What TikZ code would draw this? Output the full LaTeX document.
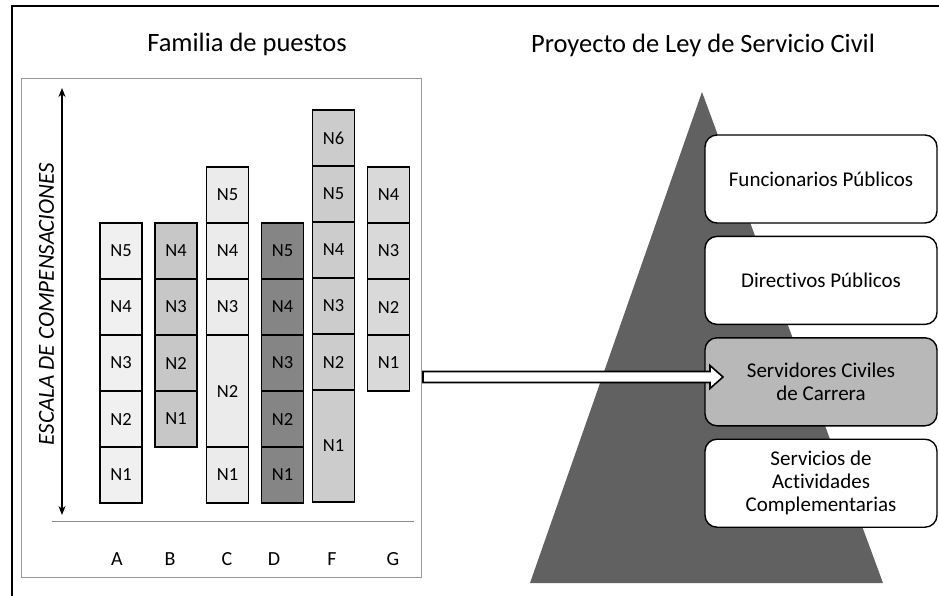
\documentclass[tikz,border=0pt]{standalone}
\usepackage{fontspec}
\setmainfont{Carlito}[Ligatures=NoCommon]
\usetikzlibrary{arrows.meta, positioning, calc}

\begin{document}
\begin{tikzpicture}[x=1pt, y=-1pt, node distance=56pt,
	cell/.style={draw, line width=1.1pt, minimum width=42pt, minimum height=56pt, inner sep=0pt, font=\fontsize{18.5}{21}\selectfont},
	grupo/.style={draw, line width=1.4pt, rounded corners=12pt, minimum width=232pt, minimum height=88pt, inner sep=2pt, align=center, fill=white, font=\fontsize{21}{23}\selectfont},
	titulo/.style={anchor=base, font=\fontsize{26.5}{30}\selectfont},
	letra/.style={anchor=base, font=\fontsize{20}{22}\selectfont}]
	\useasboundingbox (0,0) rectangle (939,595);
	\draw[line width=1.2pt] (12,6) rectangle (960,620);

	% familia de puestos
	\node[titulo] (famtit) at (247,51) {Familia de puestos};
	\node[draw=black!40, line width=0.7pt, minimum width=400pt, minimum height=499pt, inner sep=0pt] (panel) at (221,327.5) {};

	\node[cell, fill=black!6] (A5) at (121,251) {N5};
	\node[cell, fill=black!6] (A4) [below of=A5] {N4};
	\node[cell, fill=black!6] (A3) [below of=A4] {N3};
	\node[cell, fill=black!6] (A2) [below of=A3] {N2};
	\node[cell, fill=black!6] (A1) [below of=A2] {N1};

	\node[cell, fill=black!22] (B4) at (176,251) {N4};
	\node[cell, fill=black!22] (B3) [below of=B4] {N3};
	\node[cell, fill=black!22] (B2) [below of=B3] {N2};
	\node[cell, fill=black!22] (B1) [below of=B2] {N1};

	\node[cell, fill=black!8] (C5) at (227.5,195) {N5};
	\node[cell, fill=black!8] (C4) [below of=C5] {N4};
	\node[cell, fill=black!8] (C3) [below of=C4] {N3};
	\node[cell, fill=black!8, minimum height=112pt] (C2) [below of=C3, yshift=-28pt] {N2};
	\node[cell, fill=black!8] (C1) [below of=C2, yshift=-28pt] {N1};

	\node[cell, fill=black!48] (D5) at (282.5,251) {N5};
	\node[cell, fill=black!48] (D4) [below of=D5] {N4};
	\node[cell, fill=black!48] (D3) [below of=D4] {N3};
	\node[cell, fill=black!48] (D2) [below of=D3] {N2};
	\node[cell, fill=black!48] (D1) [below of=D2] {N1};

	\node[cell, fill=black!20] (F6) at (333.5,138) {N6};
	\node[cell, fill=black!20] (F5) [below of=F6] {N5};
	\node[cell, fill=black!20] (F4) [below of=F5] {N4};
	\node[cell, fill=black!20] (F3) [below of=F4] {N3};
	\node[cell, fill=black!20] (F2) [below of=F3] {N2};
	\node[cell, fill=black!20, minimum height=112pt] (F1) [below of=F2, yshift=-28pt] {N1};

	\node[cell, fill=black!15] (G4) at (388.5,195) {N4};
	\node[cell, fill=black!15] (G3) [below of=G4] {N3};
	\node[cell, fill=black!15] (G2) [below of=G3] {N2};
	\node[cell, fill=black!15] (G1) [below of=G2] {N1};

	\coordinate (etop) at (62,88);
	\coordinate (ebot) at (62,515);
	\draw[{Stealth[length=9pt,width=7pt]}-{Stealth[length=9pt,width=7pt]}, line width=1.3pt] (etop) -- (ebot);
	\node[rotate=90, font=\itshape\fontsize{23}{26}\selectfont] (escala) at (46.5,304) {ESCALA DE COMPENSACIONES};

	\coordinate (bl) at (52,521);
	\coordinate (br) at (414,521);
	\draw[black!45, line width=0.8pt] (bl) -- (br);

	\node[letra] (LA) at (117,565) {A};
	\node[letra] (LB) at (170,565) {B};
	\node[letra] (LC) at (227,565) {C};
	\node[letra] (LD) at (274,565) {D};
	\node[letra] (LF) at (332,565) {F};
	\node[letra] (LG) at (393,565) {G};

	% proyecto de ley
	\node[titulo] (leytit) at (703,52) {Proyecto de Ley de Servicio Civil};
	\coordinate (apex) at (702,92);
	\coordinate (pl) at (530,583);
	\coordinate (pr) at (883,583);
	\fill[black!62] (apex) -- (pl) -- (pr) -- cycle;

	\node[grupo] (fun) at (821,179) {Funcionarios Públicos};
	\node[grupo, below=12pt of fun] (dir) {Directivos Públicos};
	\node[grupo, below=12pt of dir, fill=black!28] (srv) {Servidores Civiles\\de Carrera};
	\node[grupo, below=12pt of srv] (sac) {Servicios de\\Actividades\\Complementarias};

	\coordinate (atail) at (423,377);
	\coordinate (atip) at (723,377);
	\draw[line width=1.6pt, fill=white, line join=miter] ($(atail)+(0,-5.5)$) -- ($(atip)+(-13,-5.5)$) -- ($(atip)+(-13,-11.5)$) -- (atip)
		-- ($(atip)+(-13,11.5)$) -- ($(atip)+(-13,5.5)$) -- ($(atail)+(0,5.5)$) -- cycle;
\end{tikzpicture}
\end{document}
